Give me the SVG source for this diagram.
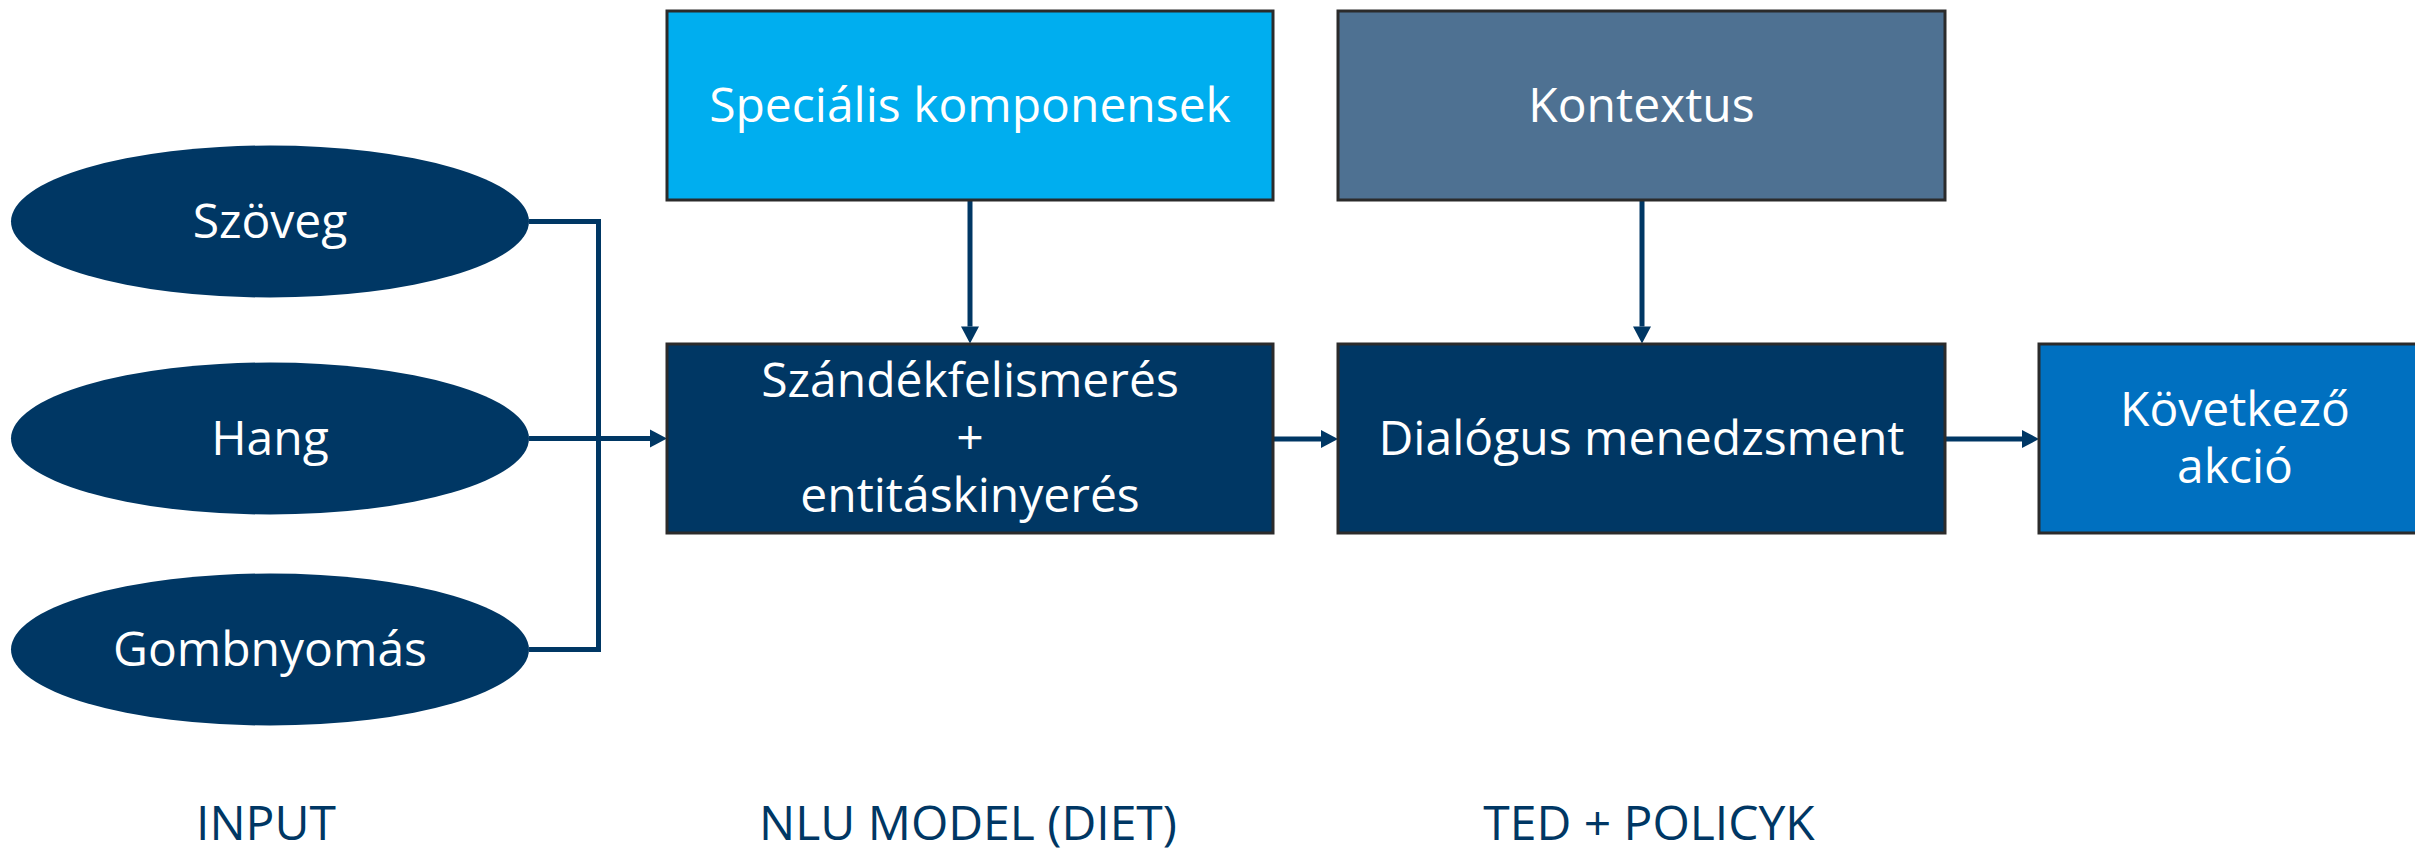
<svg xmlns="http://www.w3.org/2000/svg" width="2415" height="848" viewBox="0 0 2415 848">
<style>
.lbl{font-family:"Open Sans","Noto Sans","Liberation Sans",sans-serif;font-size:48px;fill:#ffffff;text-anchor:middle}
.cap{font-family:"Open Sans","Noto Sans","Liberation Sans",sans-serif;font-size:48px;fill:#003764;text-anchor:middle}
.ell{fill:#003764}
.box{stroke:#2b2b2b;stroke-width:3}
.con{fill:none;stroke:#003764;stroke-width:5}
</style>
<defs>
<marker id="arr" markerUnits="userSpaceOnUse" markerWidth="18" markerHeight="18" refX="0" refY="9" orient="auto" overflow="visible">
<path d="M0,0 L17,9 L0,18 Z" fill="#003764"/>
</marker>
</defs>
<rect width="2415" height="848" fill="#ffffff"/>
<g id="connectors">
<path class="con" d="M529,221.5 H598.5 V438.5"/>
<path class="con" d="M529,649.5 H598.5 V438.5"/>
<path class="con" d="M529,438.5 H650" marker-end="url(#arr)"/>
<path class="con" d="M970,200 V326.5" marker-end="url(#arr)"/>
<path class="con" d="M1642,200 V326.5" marker-end="url(#arr)"/>
<path class="con" d="M1273,439 H1321" marker-end="url(#arr)"/>
<path class="con" d="M1945,439 H2022" marker-end="url(#arr)"/>
</g>
<g id="szoveg">
<ellipse class="ell" cx="270" cy="221.5" rx="259" ry="76"/>
<text class="lbl" x="270" y="238">Szöveg</text>
</g>
<g id="hang">
<ellipse class="ell" cx="270" cy="438.5" rx="259" ry="76"/>
<text class="lbl" x="270" y="455">Hang</text>
</g>
<g id="gombnyomas">
<ellipse class="ell" cx="270" cy="649.5" rx="259" ry="76"/>
<text class="lbl" x="270" y="666">Gombnyomás</text>
</g>
<g id="specialis">
<rect class="box" x="667" y="11" width="606" height="189" fill="#00AEEF"/>
<text class="lbl" x="970" y="122">Speciális komponensek</text>
</g>
<g id="kontextus">
<rect class="box" x="1338" y="11" width="607" height="189" fill="#4E7192"/>
<text class="lbl" x="1641.5" y="122">Kontextus</text>
</g>
<g id="szandek">
<rect class="box" x="667" y="344" width="606" height="189" fill="#003764"/>
<text class="lbl" x="970" y="397">Szándékfelismerés</text>
<text class="lbl" x="970" y="454">+</text>
<text class="lbl" x="970" y="512">entitáskinyerés</text>
</g>
<g id="dialogus">
<rect class="box" x="1338" y="344" width="607" height="189" fill="#003764"/>
<text class="lbl" x="1641.5" y="455">Dialógus menedzsment</text>
</g>
<g id="kovetkezo">
<rect class="box" x="2039" y="344" width="392" height="189" fill="#0070C0"/>
<text class="lbl" x="2235" y="426">Következő</text>
<text class="lbl" x="2235" y="483">akció</text>
</g>
<g id="captions">
<text class="cap" x="266" y="840">INPUT</text>
<text class="cap" x="968" y="840">NLU MODEL (DIET)</text>
<text class="cap" x="1649" y="840">TED + POLICYK</text>
</g>
</svg>
